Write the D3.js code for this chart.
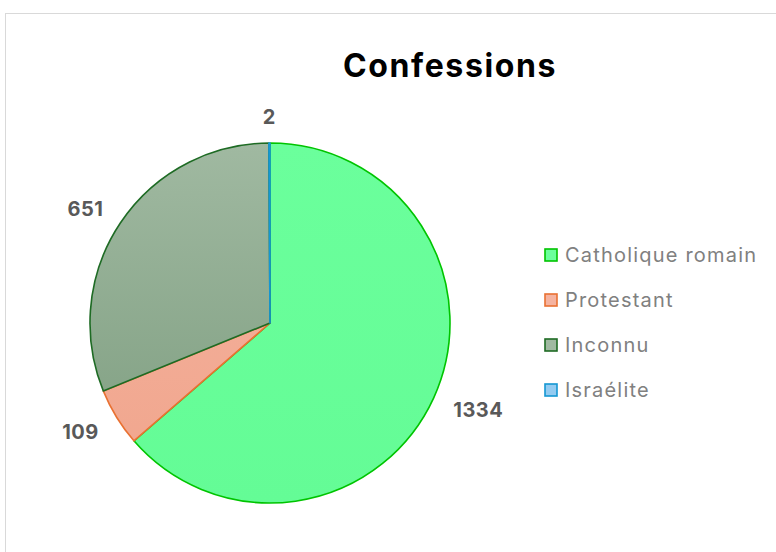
<!DOCTYPE html>
<html>
<head>
<meta charset="utf-8">
<script src="https://cdn.jsdelivr.net/npm/d3@7"></script>
<style>
  body { margin: 0; background: #fff; }
  svg { display: block; }
</style>
</head>
<body>
<svg id="chart" width="776" height="552"></svg>
<script>
// data
const categories = ["Catholique romain", "Protestant", "Inconnu", "Israélite"];
const values = [1334, 109, 651, 2];
const fills = [["#6bff9c", "#64fc96"], ["#f5b3a0", "#f0a58c"], ["#a0b9a1", "#7c9c7e"], ["#93cbf1", "#86c1ec"]];
const strokes = ["#00c400", "#e97132", "#1e6b24", "#1597d3"];

const W = 776, H = 552;
const cx = 270, cy = 323, r = 180;

const svg = d3.select("#chart");

// frame
svg.append("rect")
  .attr("x", 5.5).attr("y", 13.5)
  .attr("width", W + 10).attr("height", H + 10)
  .attr("fill", "#fff")
  .attr("stroke", "#d9d9d9");

svg.append("text")
  .attr("x", 450).attr("y", 77)
  .attr("text-anchor", "middle")
  .style("font-family", "Inter, 'Liberation Sans', sans-serif")
  .style("font-weight", "bold")
  .style("font-size", "32px")
  .style("letter-spacing", "1.6px")
  .attr("fill", "#000")
  .text("Confessions");

const defs = svg.append("defs");
fills.forEach((f, i) => {
  const g = defs.append("linearGradient")
    .attr("id", "grad" + i)
    .attr("gradientUnits", "userSpaceOnUse")
    .attr("x1", 0).attr("y1", -r).attr("x2", 0).attr("y2", r);
  g.append("stop").attr("offset", "0%").attr("stop-color", f[0]);
  g.append("stop").attr("offset", "100%").attr("stop-color", f[1]);
});

const pie = d3.pie().sort(null).value(d => d);
const arcs = pie(values);
const arc = d3.arc().innerRadius(0).outerRadius(r);

const g = svg.append("g").attr("transform", `translate(${cx},${cy})`);

g.selectAll("path")
  .data(arcs)
  .enter()
  .append("path")
  .attr("d", arc)
  .attr("fill", (d, i) => `url(#grad${i})`)
  .attr("stroke", (d, i) => strokes[i])
  .attr("stroke-width", 1.6)
  .attr("stroke-linejoin", "round");

// labels outside end
const lab = g.selectAll("text.lab")
  .data(arcs)
  .enter()
  .append("text")
  .attr("class", "lab")
  .attr("text-anchor", "middle")
  .attr("dominant-baseline", "central")
  .style("font-family", "Inter, 'Liberation Sans', sans-serif")
  .style("font-weight", "bold")
  .style("font-size", "20px")
  .style("letter-spacing", "0.5px")
  .attr("fill", "#595959")
  .text(d => d.value);

lab.each(function(d) {
  const bb = this.getBBox();
  const a = (d.startAngle + d.endAngle) / 2;
  const s = Math.sin(a), c = Math.cos(a);
  d3.select(this)
    .attr("x", s * (204 + bb.width / 2))
    .attr("y", -c * 207 + 1);
});

// legend
const legend = svg.append("g").attr("transform", "translate(544, 255)");
const rows = legend.selectAll("g")
  .data(categories)
  .enter()
  .append("g")
  .attr("transform", (d, i) => `translate(0, ${i * 45})`);

rows.append("rect")
  .attr("x", 1).attr("y", -6)
  .attr("width", 12).attr("height", 12)
  .attr("fill", (d, i) => fills[i][0])
  .attr("stroke", (d, i) => strokes[i])
  .attr("stroke-width", 1.6);

rows.append("text")
  .attr("x", 21).attr("y", 0)
  .attr("dominant-baseline", "central")
  .style("font-family", "Inter, 'Liberation Sans', sans-serif")
  .style("font-size", "20px")
  .style("letter-spacing", "1.2px")
  .attr("fill", "#808080")
  .text(d => d);
</script>
</body>
</html>
